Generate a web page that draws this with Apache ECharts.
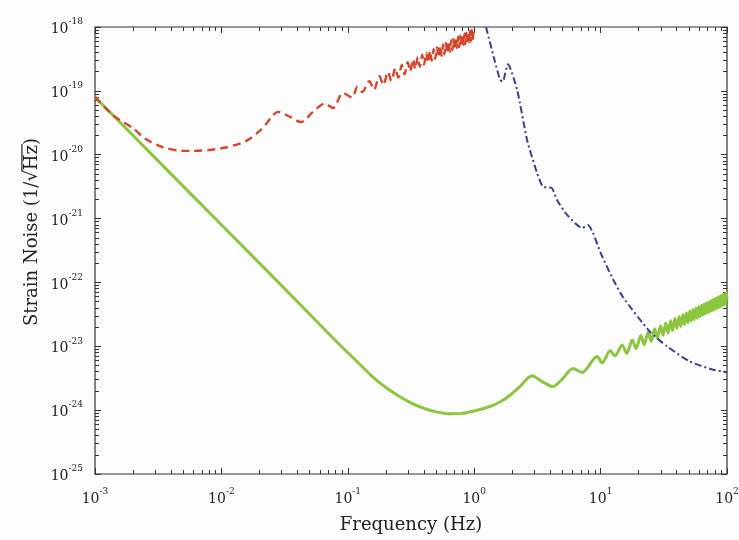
<!DOCTYPE html>
<html>
<head>
<meta charset="utf-8">
<script src="https://cdn.jsdelivr.net/npm/echarts@6/dist/echarts.min.js"></script>
<style>
  html, body { margin: 0; padding: 0; background: #fcfcfc; }
  #main { width: 739px; height: 540px; }
</style>
</head>
<body>
<div id="main"></div>
<script>
// tick exponents (labels are 10^n)
const xExps = [-3, -2, -1, 0, 1, 2];
const yExps = [-25, -24, -23, -22, -21, -20, -19, -18];
const minorMult = [2, 3, 4, 5, 6, 7, 8, 9];

// green solid curve
const greenFreq = [0.001, 0.00316, 0.01, 0.0316, 0.0763, 0.126, 0.158, 0.204, 0.251, 0.316, 0.398, 0.5, 0.63, 0.8, 1.0, 1.26,
  1.5, 1.82, 2.3, 2.86, 3.4, 4.2, 5.0, 6.05, 7.13, 9.38,
  10.3, 11.9, 13.0, 14.8, 16.1, 17.8, 19.1, 20.8, 22.1, 23.8,
  25.1, 26.8, 28.1, 29.8, 31.1, 32.8, 34.1, 35.8, 37.1, 38.8,
  40.1, 41.8, 43.1, 44.8, 46.1, 47.8, 49.1, 50.8, 52.1, 53.8,
  55.1, 56.8, 58.1, 59.8, 61.1, 62.8, 64.1, 65.8, 67.1, 68.8,
  70.1, 71.8, 73.1, 74.8, 76.1, 77.8, 79.1, 80.8, 82.1, 83.8,
  85.1, 86.8, 88.1, 89.8, 91.1, 92.8, 94.1, 95.8, 97.1, 98.8, 100];
const greenVal = [8.0e-20, 8.0e-21, 8.0e-22, 8.0e-23, 1.35e-23, 5.1e-24, 3.3e-24, 2.2e-24, 1.68e-24, 1.3e-24, 1.07e-24, 9.4e-25, 8.8e-25, 8.9e-25, 9.7e-25, 1.1e-24,
  1.26e-24, 1.58e-24, 2.34e-24, 3.47e-24, 2.85e-24, 2.34e-24, 3.1e-24, 4.47e-24, 3.9e-24, 6.9e-24,
  5.5e-24, 8.5e-24, 7.1e-24, 1.05e-23, 7.7e-24, 1.26e-23, 9.2e-24, 1.47e-23, 1.06e-23, 1.68e-23,
  1.2e-23, 1.88e-23, 1.34e-23, 2.09e-23, 1.49e-23, 2.31e-23, 1.63e-23, 2.51e-23, 1.77e-23, 2.72e-23,
  1.92e-23, 2.93e-23, 2.05e-23, 3.13e-23, 2.2e-23, 3.34e-23, 2.34e-23, 3.56e-23, 2.48e-23, 3.76e-23,
  2.62e-23, 3.96e-23, 2.76e-23, 4.18e-23, 2.9e-23, 4.39e-23, 3.05e-23, 4.59e-23, 3.19e-23, 4.8e-23,
  3.33e-23, 5.0e-23, 3.47e-23, 5.21e-23, 3.6e-23, 5.42e-23, 3.74e-23, 5.62e-23, 3.88e-23, 5.83e-23,
  4.0e-23, 6.04e-23, 4.15e-23, 6.24e-23, 4.28e-23, 6.45e-23, 4.42e-23, 6.65e-23, 4.59e-23, 6.87e-23, 5.6e-23];

// red dashed curve
const redFreq = [0.001, 0.0014, 0.002, 0.0025, 0.0034, 0.005, 0.0059, 0.01, 0.0155, 0.02, 0.023, 0.0251,
  0.0281, 0.035, 0.0427, 0.053, 0.066, 0.0764, 0.0916, 0.108, 0.119, 0.13, 0.148, 0.161,
  0.178, 0.191, 0.208, 0.221, 0.238, 0.251, 0.268, 0.281, 0.298, 0.311, 0.328, 0.341, 0.358, 0.371,
  0.388, 0.401, 0.418, 0.431, 0.448, 0.461, 0.478, 0.491, 0.508, 0.521, 0.538, 0.551, 0.568, 0.581,
  0.598, 0.611, 0.628, 0.641, 0.658, 0.671, 0.688, 0.701, 0.718, 0.731, 0.748, 0.761, 0.778, 0.791,
  0.808, 0.821, 0.838, 0.851, 0.868, 0.881, 0.898, 0.911, 0.928, 0.941, 0.958, 0.971, 0.988];
const redVal = [8.0e-20, 4.1e-20, 2.6e-20, 1.78e-20, 1.32e-20, 1.15e-20, 1.15e-20, 1.26e-20, 1.62e-20, 2.34e-20, 3.16e-20, 4.0e-20,
  4.68e-20, 3.9e-20, 3.24e-20, 4.68e-20, 6.3e-20, 5.4e-20, 9.3e-20, 7.9e-20, 1.15e-19, 9.6e-20, 1.42e-19, 1.04e-19,
  1.70e-19, 1.24e-19, 1.98e-19, 1.43e-19, 2.27e-19, 1.62e-19, 2.54e-19, 1.81e-19, 2.82e-19, 2.01e-19, 3.12e-19, 2.2e-19, 3.39e-19, 2.39e-19,
  3.67e-19, 2.59e-19, 3.96e-19, 2.77e-19, 4.23e-19, 2.97e-19, 4.51e-19, 3.16e-19, 4.81e-19, 3.35e-19, 5.08e-19, 3.54e-19, 5.35e-19, 3.73e-19,
  5.64e-19, 3.92e-19, 5.93e-19, 4.12e-19, 6.2e-19, 4.31e-19, 6.48e-19, 4.5e-19, 6.75e-19, 4.68e-19, 7.03e-19, 4.86e-19, 7.32e-19, 5.05e-19,
  7.59e-19, 5.24e-19, 7.87e-19, 5.4e-19, 8.15e-19, 5.6e-19, 8.42e-19, 5.78e-19, 8.71e-19, 5.97e-19, 8.98e-19, 6.2e-19, 9.27e-19];

// blue dash-dot curve
const blueFreq = [1.24, 1.45, 1.6, 1.68, 1.85, 2.19, 2.62, 3.14, 3.5, 4.12, 4.52, 5.42,
  7.13, 7.94, 8.7, 10, 12.6, 15.1, 24.5, 33.5, 51, 77.5, 94.6, 100];
const blueVal = [1.0e-18, 3.0e-19, 1.5e-19, 1.4e-19, 2.6e-19, 1.02e-19, 1.7e-20, 5.2e-21, 3.16e-21, 3.0e-21, 1.95e-21, 1.15e-21,
  7.1e-22, 7.9e-22, 6.0e-22, 2.9e-22, 1.1e-22, 5.8e-23, 1.7e-23, 1.0e-23, 5.75e-24, 4.3e-24, 4.0e-24, 3.9e-24];

const FONT = '"DejaVu Serif", "Liberation Serif", serif';
const INK = '#222';

function pairs(f, v) {
  return f.map((x, i) => [x, v[i]]);
}

// log-spaced minor tick positions, in exponent units
function minorTicks(exps) {
  const out = [];
  for (let i = 0; i < exps.length - 1; i++) {
    minorMult.forEach(m => out.push(exps[i] + Math.log10(m)));
  }
  return out;
}

const labelRich = {
  b: { fontFamily: FONT, fontSize: 14, lineHeight: 19, verticalAlign: 'bottom', color: INK },
  s: { fontFamily: FONT, fontSize: 9, lineHeight: 9, verticalAlign: 'top', color: INK }
};
const supLabel = v => '{b|10}{s|' + v + '}';

function tickAxis(pos, exps, major, withLabel) {
  const ax = {
    type: 'value',
    position: pos,
    min: exps[0],
    max: exps[exps.length - 1],
    interval: 1,
    axisLine: { show: false, onZero: false },
    splitLine: { show: false },
    axisTick: { show: true, inside: true, length: major ? 6 : 4, lineStyle: { color: '#333', width: 1 } },
    axisLabel: { show: false }
  };
  if (!major) ax.axisTick.customValues = minorTicks(exps);
  if (withLabel) {
    ax.axisLabel = { show: true, formatter: supLabel, rich: labelRich, margin: pos === 'bottom' ? 13 : 12 };
  }
  return ax;
}

// y title with overline over Hz
const yFont = 18;
const ctx = document.createElement('canvas').getContext('2d');
ctx.font = yFont + 'px "DejaVu Serif"';
const tA = 'Strain Noise (1/\u221A', tB = 'Hz', tC = ')';
const wA = ctx.measureText(tA).width, wB = ctx.measureText(tB).width, wC = ctx.measureText(tC).width;
const wRad = ctx.measureText('\u221A').width;
const x0 = -(wA + wB + wC) / 2;
const tStyle = { fontFamily: FONT, fontSize: yFont, fill: INK, textVerticalAlign: 'middle', verticalAlign: 'middle' };

const xAxisName = { name: 'Frequency (Hz)', nameLocation: 'middle', nameGap: 42,
  nameTextStyle: { fontFamily: FONT, fontSize: 18, color: INK } };

const chart = echarts.init(document.getElementById('main'), null, { renderer: 'canvas' });
chart.setOption({
  backgroundColor: '#fcfcfc',
  animation: false,
  grid: { left: 95, right: 12, top: 27, bottom: 66, show: true, borderColor: '#333', borderWidth: 1.2,
    backgroundColor: 'transparent', containLabel: false, outerBoundsMode: 'none' },
  xAxis: [
    { type: 'log', logBase: 10, min: 1e-3, max: 100, show: false },
    Object.assign(tickAxis('bottom', xExps, true, true), xAxisName),
    tickAxis('bottom', xExps, false, false),
    tickAxis('top', xExps, true, false),
    tickAxis('top', xExps, false, false)
  ],
  yAxis: [
    { type: 'log', logBase: 10, min: 1e-25, max: 1e-18, show: false },
    tickAxis('left', yExps, true, true),
    tickAxis('left', yExps, false, false),
    tickAxis('right', yExps, true, false),
    tickAxis('right', yExps, false, false)
  ],
  graphic: [{
    type: 'group',
    x: 32, y: 232,
    rotation: Math.PI / 2,
    children: [
      { type: 'text', x: x0, y: 0, style: Object.assign({ text: tA, textAlign: 'left', align: 'left' }, tStyle) },
      { type: 'text', x: x0 + wA, y: 0, style: Object.assign({ text: tB, textAlign: 'left', align: 'left' }, tStyle) },
      { type: 'text', x: x0 + wA + wB, y: 0, style: Object.assign({ text: tC, textAlign: 'left', align: 'left' }, tStyle) },
      { type: 'line', shape: { x1: x0 + wA - wRad * 0.12, y1: -yFont * 0.56, x2: x0 + wA + wB + 1, y2: -yFont * 0.56 },
        style: { stroke: INK, lineWidth: 1.2 } }
    ]
  }],
  series: [
    {
      name: 'green', type: 'line', xAxisIndex: 0, yAxisIndex: 0,
      data: pairs(greenFreq, greenVal), showSymbol: false, symbol: 'none', smooth: 0.3,
      lineStyle: { color: '#8cc63f', width: 3 }
    },
    {
      name: 'red', type: 'line', xAxisIndex: 0, yAxisIndex: 0,
      data: pairs(redFreq, redVal), showSymbol: false, symbol: 'none', smooth: 0.3,
      lineStyle: { color: '#d4452a', width: 2.4, type: [8, 5] }
    },
    {
      name: 'blue', type: 'line', xAxisIndex: 0, yAxisIndex: 0,
      data: pairs(blueFreq, blueVal), showSymbol: false, symbol: 'none', smooth: 0.2,
      lineStyle: { color: '#3d3f8e', width: 2, type: [7, 3, 2, 3] }
    }
  ]
});
</script>
</body>
</html>
